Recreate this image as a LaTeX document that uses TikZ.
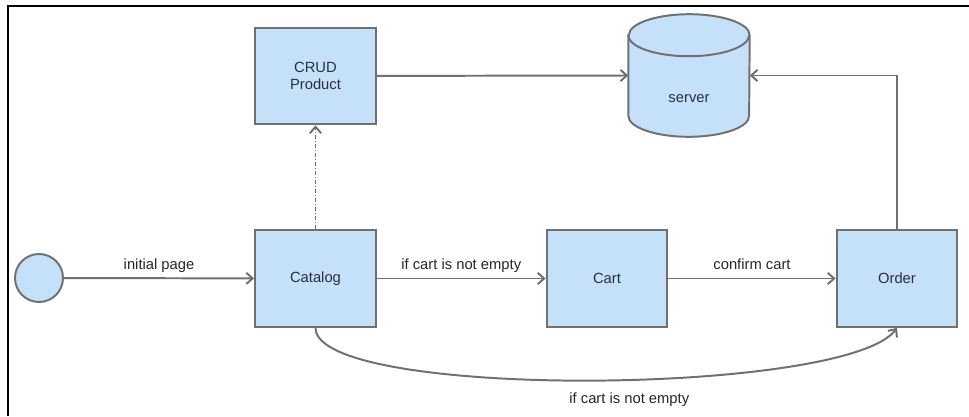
\documentclass[tikz,border=0pt]{standalone}
\usepackage{fontspec}
\setmainfont{Liberation Sans}
\usetikzlibrary{arrows.meta,backgrounds}
\definecolor{boxblue}{RGB}{197,225,250}
\definecolor{edgegray}{RGB}{112,112,112}
\definecolor{inkblue}{RGB}{38,48,66}

\begin{document}
\begin{tikzpicture}[
  x=0.025cm, y=-0.025cm,
  font=\fontsize{10.5}{12.5}\selectfont,
  box/.style={draw=edgegray, fill=boxblue, line width=1.4pt, minimum width=3.02cm, minimum height=2.42cm, align=center, text=inkblue, inner sep=2pt},
  db/.style={minimum width=3.02cm, minimum height=3.05cm, inner sep=0pt, text=inkblue},
  dbline/.style={draw=edgegray, fill=boxblue, line width=1.4pt},
  lbl/.style={text=black!85},
  arr/.style={-{Straight Barb[length=4.5pt, width=8pt]}, edgegray, line width=1.4pt}]
\useasboundingbox (0,0) rectangle (969,416);
\draw[line width=1.4pt] (8,416) -- (8,6) -- (969,6);
\node[circle, draw=edgegray, fill=boxblue, line width=1.4pt, minimum size=1.2cm] (start) at (39,278) {};
\node[box] (crud) at (315.5,76) {CRUD\\Product};
\node[db] (server) at (689,75.5) {\smash{\raisebox{-0.68cm}{server}}};
\begin{scope}[on background layer]
  % database drum behind the server text
  \path[dbline] ([yshift=-0.525cm]server.north west) -- ([yshift=0.525cm]server.south west)
    arc[start angle=180, end angle=360, x radius=1.51cm, y radius=0.525cm]
    -- ([yshift=-0.525cm]server.north east)
    arc[start angle=0, end angle=180, x radius=1.51cm, y radius=0.525cm] -- cycle;
  \draw[dbline, fill=none] ([yshift=-0.525cm]server.north west)
    arc[start angle=180, end angle=360, x radius=1.51cm, y radius=0.525cm];
\end{scope}
\node[box] (catalog) at (315.5,278.5) {Catalog};
\node[box] (cart) at (607,278.5) {Cart};
\node[box] (order) at (897,278.5) {Order};
\draw[arr] (start) -- node[above, lbl]{initial page} (catalog);
\draw[arr] (catalog) -- node[above, lbl]{if cart is not empty} (cart);
\draw[arr] (cart) -- node[above, lbl, yshift=2pt]{confirm cart} (order);
\draw[arr] (crud) -- (server.west);
\draw[arr] (order) |- (server.east);
\draw[arr, densely dashdotted] (catalog) -- (crud);
\draw[arr] (catalog.south) .. controls +(0,72) and +(-50,68) .. node[below=5pt, lbl, pos=0.55]{if cart is not empty} (order.south);
\end{tikzpicture}
\end{document}
